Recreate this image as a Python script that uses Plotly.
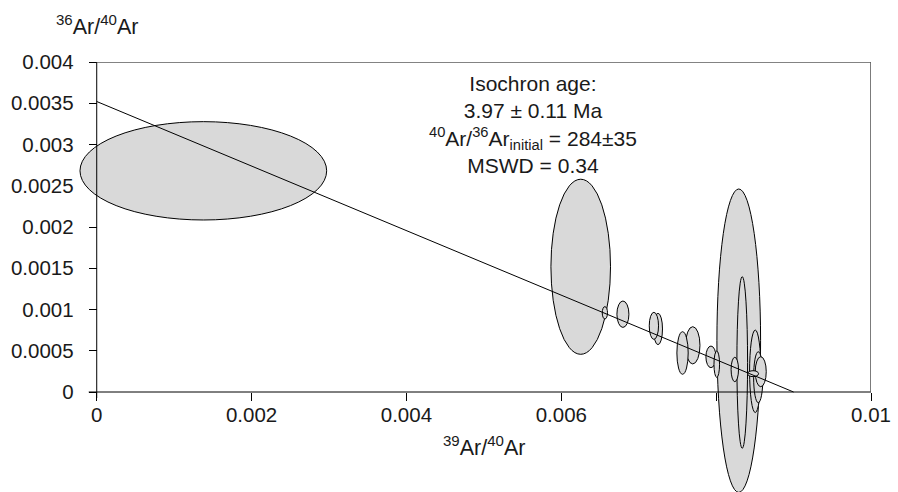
import numpy as np
import plotly.graph_objects as go

# ---- data ----
x_center = [0.001377, 0.006251, 0.008292, 0.008337, 0.006563, 0.006796, 0.007196,
            0.007249, 0.007566, 0.007698, 0.007933, 0.008008, 0.008241, 0.008505,
            0.008544, 0.008576, 0.008477]
y_center = [0.002681, 0.001518, 0.000622, 0.000358, 0.000960, 0.000943, 0.000802,
            0.000764, 0.000473, 0.000566, 0.000426, 0.000337, 0.000273, 0.000251,
            0.000179, 0.000246, 0.000222]
x_err = [0.001593, 0.000385, 0.000282, 0.000069, 0.000034, 0.0000775, 0.000060,
         0.000058, 0.000073, 0.000093, 0.000065, 0.000036, 0.000048, 0.000073,
         0.000060, 0.000071, 0.000071]
y_err = [0.000596, 0.001061, 0.001839, 0.001040, 0.000075, 0.000160, 0.000164,
         0.000190, 0.000258, 0.000226, 0.000131, 0.000160, 0.000148, 0.000500,
         0.000309, 0.000182, 0.000036]

iso_y_intercept = 1 / 284.0      # 36Ar/40Ar at 39Ar/40Ar = 0
iso_x_intercept = 0.00900        # 39Ar/40Ar at 36Ar/40Ar = 0

x_tickvals = [0, 0.002, 0.004, 0.006, 0.008, 0.01]
x_ticktext = ["0", "0.002", "0.004", "0.006", "", "0.01"]
y_tickvals = [0, 0.0005, 0.001, 0.0015, 0.002, 0.0025, 0.003, 0.0035, 0.004]
y_ticktext = ["0", "0.0005", "0.001", "0.0015", "0.002", "0.0025", "0.003", "0.0035", "0.004"]

annot_text = ("Isochron age:<br>3.97 ± 0.11 Ma<br>"
              "<sup>40</sup>Ar/<sup>36</sup>Ar<sub>initial</sub> = 284±35<br>MSWD = 0.34")

# ---- layout constants ----
W, H = 898, 492
XMAX = 0.01
YMAX = 0.004
plot_top, y0_px = 62, 392
x0_px, xmax_px = 96.7, 870.7
plot_left = 40
px_per_y = (y0_px - plot_top) / YMAX
px_per_x = (xmax_px - x0_px) / XMAX
YMIN = -(H - y0_px) / px_per_y
XMIN = -(x0_px - plot_left) / px_per_x
xaxis_pos = (0 - YMIN) / (YMAX - YMIN)
yaxis_pos = (0 - XMIN) / (XMAX - XMIN)

FONT = "Liberation Sans, Arial, Helvetica, sans-serif"
TXT = "#1a1a1a"
FILL = "#d9d9d9"
TICK_SIZE = 20.5

fig = go.Figure()
# invisible trace to instantiate axes
fig.add_trace(go.Scatter(x=[0, XMAX], y=[0, YMAX], mode="markers",
                         marker=dict(opacity=0), hoverinfo="skip", showlegend=False))

shapes = []
order = np.argsort([-a * b for a, b in zip(x_err, y_err)])
for i in order:
    shapes.append(dict(type="circle", xref="x", yref="y", layer="above",
                       x0=x_center[i] - x_err[i], x1=x_center[i] + x_err[i],
                       y0=y_center[i] - y_err[i], y1=y_center[i] + y_err[i],
                       fillcolor=FILL, line=dict(color="black", width=1)))
# isochron regression line
shapes.append(dict(type="line", xref="x", yref="y", layer="above",
                   x0=0, y0=iso_y_intercept, x1=iso_x_intercept, y1=0,
                   line=dict(color="black", width=1)))
# axis lines / frame
shapes.append(dict(type="line", xref="x", yref="y", layer="above",
                   x0=-8 / px_per_x, x1=XMAX, y0=0, y1=0, line=dict(color="black", width=1)))
shapes.append(dict(type="line", xref="x", yref="y", layer="above",
                   x0=0, x1=0, y0=-6 / px_per_y, y1=YMAX, line=dict(color="black", width=1)))
shapes.append(dict(type="line", xref="x", yref="y", layer="above",
                   x0=0, x1=XMAX, y0=YMAX, y1=YMAX, line=dict(color="#5a5a5a", width=1.6)))
shapes.append(dict(type="line", xref="x", yref="y", layer="above",
                   x0=XMAX, x1=XMAX, y0=0, y1=YMAX, line=dict(color="#5a5a5a", width=1.6)))

annotations = [
    dict(text=annot_text, xref="x", yref="y", x=0.00564, y=0.00324,
         showarrow=False, align="center", font=dict(size=21, color=TXT, family=FONT)),
    dict(text="<sup>36</sup>Ar/<sup>40</sup>Ar", xref="x", yref="paper", x=0, y=1,
         yshift=37, xanchor="center", yanchor="middle", showarrow=False,
         font=dict(size=21.5, color=TXT, family=FONT)),
    dict(text="<sup>39</sup>Ar/<sup>40</sup>Ar", xref="x", yref="y", x=XMAX / 2, y=0,
         yshift=-54, xanchor="center", yanchor="middle", showarrow=False,
         font=dict(size=21.5, color=TXT, family=FONT)),
]

fig.update_layout(
    width=W, height=H,
    margin=dict(l=plot_left, r=W - xmax_px, t=plot_top, b=0, pad=0),
    plot_bgcolor="white", paper_bgcolor="white",
    showlegend=False,
    shapes=shapes, annotations=annotations,
    font=dict(family=FONT, size=TICK_SIZE, color=TXT),
    xaxis=dict(range=[XMIN, XMAX], anchor="free", position=xaxis_pos,
               tickvals=x_tickvals, ticktext=x_ticktext,
               ticks="outside", ticklen=8, tickcolor="black", tickwidth=1,
               showline=False, showgrid=False, zeroline=False,
               ticklabelstandoff=-4,
               tickfont=dict(size=TICK_SIZE, color=TXT, family=FONT)),
    yaxis=dict(range=[YMIN, YMAX], anchor="free", position=yaxis_pos,
               tickvals=y_tickvals, ticktext=y_ticktext,
               ticks="outside", ticklen=8, tickcolor="black", tickwidth=1,
               showline=False, showgrid=False, zeroline=False,
               ticklabelstandoff=11,
               tickfont=dict(size=TICK_SIZE, color=TXT, family=FONT)),
)

fig.write_html("out.html")
